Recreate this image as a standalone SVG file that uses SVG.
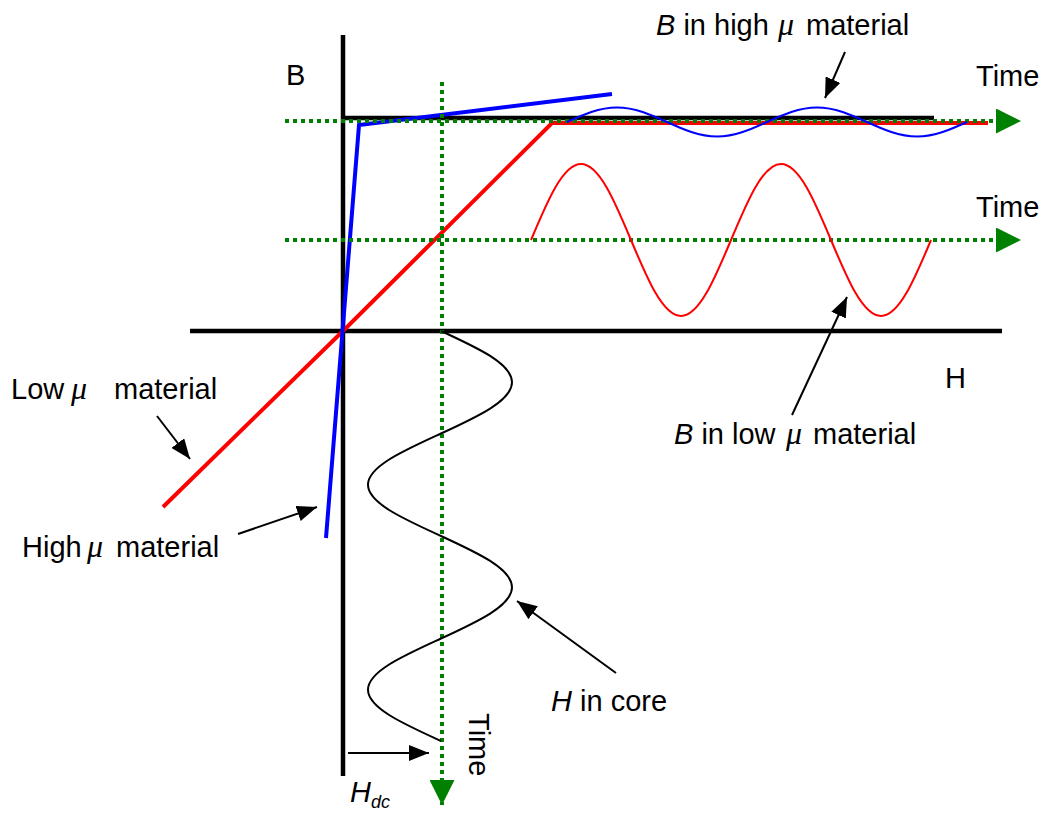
<svg xmlns="http://www.w3.org/2000/svg" width="1046" height="814" viewBox="0 0 1046 814">
<style>
.lbl{font-family:"Liberation Sans",Arial,sans-serif;font-size:29px;fill:#000}
.it{font-style:italic}
.mu{font-family:"Liberation Serif","Times New Roman",serif;font-style:italic;font-size:32px}
.axis{stroke:#000;stroke-width:4.5;fill:none}
.dot{stroke:#008000;stroke-width:4;stroke-dasharray:4 4;fill:none}
.ptr{stroke:#000;stroke-width:2;fill:none}
.wave{fill:none;stroke-width:2}
</style>
<defs>
<marker id="ah" viewBox="0 0 20 16" refX="20" refY="8" markerWidth="20" markerHeight="16" markerUnits="userSpaceOnUse" orient="auto">
<path d="M0,0 L20,8 L0,16 z" fill="#000"/>
</marker>
<marker id="gh" viewBox="0 0 25 25" refX="25" refY="12.5" markerWidth="25" markerHeight="25" markerUnits="userSpaceOnUse" orient="auto">
<path d="M0,0 L25,12.5 L0,25 z" fill="#008000"/>
</marker>
</defs>
<rect width="1046" height="814" fill="#fff"/>

<g id="axes">
<line class="axis" x1="343" y1="35" x2="343" y2="776"/>
<line class="axis" x1="190" y1="331" x2="1002" y2="331"/>
<line class="axis" x1="343" y1="118" x2="934" y2="118"/>
</g>

<g id="bh-curves">
<polyline points="163,507 343,331 552,123 988,123" fill="none" stroke="#ff0000" stroke-width="4"/>
<polyline points="326,538 359,125 612,94" fill="none" stroke="#0000ff" stroke-width="4"/>
</g>

<g id="time-axes">
<line class="dot" x1="285" y1="121" x2="1021" y2="121" marker-end="url(#gh)"/>
<line class="dot" x1="285" y1="240" x2="1021" y2="240" marker-end="url(#gh)"/>
<line class="dot" x1="442" y1="82" x2="442" y2="805" marker-end="url(#gh)"/>
</g>

<g id="waves">
<path id="b-high-wave" class="wave" stroke="#0000ff" d="M567,122 C583.3,114.57 598.9,107.5 617,107.5 C635.1,107.5 650.7,114.57 667,122 C683.3,129.43 698.9,136.5 717,136.5 C735.1,136.5 750.7,129.43 767,122 C783.3,114.57 798.9,107.5 817,107.5 C835.1,107.5 850.7,114.57 867,122 C883.3,129.43 898.9,136.5 917,136.5 C935.1,136.5 950.7,129.43 967,122"/>
<path id="b-low-wave" class="wave" stroke="#ff0000" d="M531,240 C547.3,201.07 562.9,164 581,164 C599.1,164 614.7,201.07 631,240 C647.3,278.93 662.9,316 681,316 C699.1,316 714.7,278.93 731,240 C747.3,201.07 762.9,164 781,164 C799.1,164 814.7,201.07 831,240 C847.3,278.93 862.9,316 881,316 C899.1,316 914.7,278.93 931,240"/>
<path id="h-core-wave" class="wave" stroke="#000" d="M441,331 C477.37,347.72 512,363.7 512,382.25 C512,400.8 477.37,416.78 441,433.5 C404.63,450.22 368,466.2 368,484.75 C368,503.3 404.63,519.28 441,536 C477.37,552.72 512,568.7 512,587.25 C512,605.8 477.37,621.78 441,638.5 C404.63,655.22 368,671.2 368,689.75 C368,708.3 404.63,724.28 441,741"/>
</g>

<g id="connectors">
<line class="ptr" x1="845" y1="52" x2="825" y2="98" marker-end="url(#ah)"/>
<line class="ptr" x1="792" y1="415" x2="847" y2="297" marker-end="url(#ah)"/>
<line class="ptr" x1="157" y1="416" x2="190" y2="459" marker-end="url(#ah)"/>
<line class="ptr" x1="238" y1="534" x2="317" y2="507" marker-end="url(#ah)"/>
<line class="ptr" x1="616" y1="673" x2="517" y2="601" marker-end="url(#ah)"/>
<line class="ptr" x1="348" y1="753" x2="429" y2="753" marker-end="url(#ah)"/>
</g>

<g id="label-B"><text class="lbl" x="286" y="85">B</text></g>
<g id="label-H"><text class="lbl" x="945" y="388">H</text></g>
<g id="label-time1"><text class="lbl" x="976" y="86">Time</text></g>
<g id="label-time2"><text class="lbl" x="976" y="217">Time</text></g>
<g id="label-time3"><text class="lbl" transform="translate(469,713) rotate(90)">Time</text></g>
<g id="label-b-high"><text class="lbl" y="35"><tspan x="656" class="it">B</tspan> in high<tspan x="778" class="mu">μ</tspan><tspan x="806">material</tspan></text></g>
<g id="label-b-low"><text class="lbl" y="444"><tspan x="674" class="it">B</tspan> in low<tspan x="786" class="mu">μ</tspan><tspan x="813">material</tspan></text></g>
<g id="label-low-mu"><text class="lbl" y="399"><tspan x="11">Low</tspan><tspan x="71" class="mu">μ</tspan><tspan x="114">material</tspan></text></g>
<g id="label-high-mu"><text class="lbl" y="557"><tspan x="22">High</tspan><tspan x="87" class="mu">μ</tspan><tspan x="116">material</tspan></text></g>
<g id="label-h-core"><text class="lbl" x="551" y="711"><tspan class="it">H</tspan> in core</text></g>
<g id="label-hdc"><text class="lbl it" x="350" y="802">H</text><text class="lbl it" x="371" y="808" style="font-size:18px">dc</text></g>
</svg>
